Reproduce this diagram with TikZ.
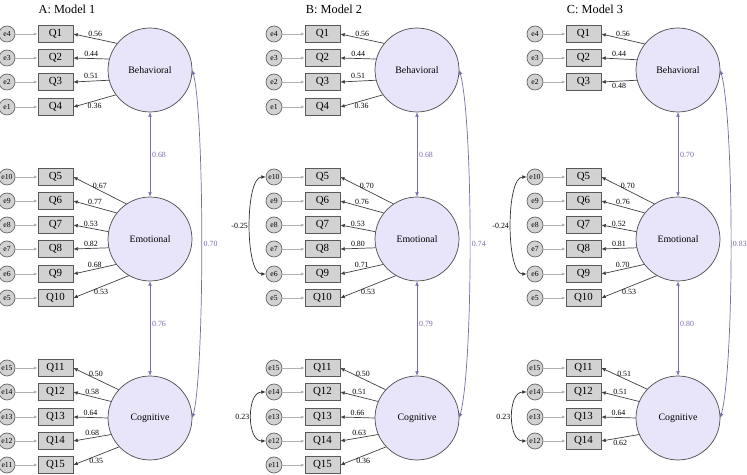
\documentclass[tikz,border=0pt]{standalone}
\usepackage{fontspec}
\setmainfont{Liberation Serif}
\usetikzlibrary{arrows.meta, positioning}
\definecolor{lav}{HTML}{E8E4F9}
\definecolor{purp}{HTML}{7D69AA}
\definecolor{boxgray}{HTML}{D2D2D2}

\begin{document}
\begin{tikzpicture}[x=0.02cm, y=0.02cm,
    item/.style={draw=black!65, fill=boxgray, minimum width=0.7cm, minimum height=0.34cm, inner sep=0pt, font=\fontsize{6.2}{7}\selectfont},
    err/.style={circle, draw=black!60, fill=boxgray, minimum size=0.32cm, inner sep=0pt, font=\fontsize{4.4}{5}\selectfont},
    latent/.style={circle, draw=black!70, fill=lav, minimum size=1.68cm, inner sep=0pt, font=\fontsize{5.6}{7}\selectfont},
    load/.style={draw=black!75, -{Latex[length=2.5pt, width=2.2pt]}},
    resid/.style={draw=black!30, -{Latex[length=2pt, width=1.8pt]}},
    corr/.style={draw=purp, {Latex[length=2.5pt, width=2.2pt]}-{Latex[length=2.5pt, width=2.2pt]}},
    ecov/.style={draw=black!80, {Latex[length=2.5pt, width=2.2pt]}-{Latex[length=2.5pt, width=2.2pt]}},
    lab/.style={font=\fontsize{4.5}{5}\selectfont, inner sep=1pt},
    plab/.style={lab, text=purp, right},
    title/.style={font=\fontsize{7}{8}\selectfont}]
    \useasboundingbox (0,0) rectangle (747,-475);

    % A: Model 1
    \node[title] (a-title) at (67,-9) {A: Model 1};
    \node[latent] (a-beh) at (150,-70) {Behavioral};
    \node[latent] (a-emo) at (150,-239) {Emotional};
    \node[latent] (a-cog) at (150,-418) {Cognitive};
    \foreach \q/\e/\y/\lv/\ang/\ld/\an in {1/4/34/beh/141/0.56/south, 2/3/58/beh/165/0.44/south,
        3/2/82/beh/194/0.51/south, 4/1/107/beh/216/0.36/north,
        5/10/177/emo/124/0.67/south, 6/9/201/emo/142/0.77/south, 7/8/225/emo/170/0.53/south,
        8/7/249/emo/192/0.82/south, 9/6/274/emo/217/0.68/south, 10/5/298/emo/240/0.53/north,
        11/15/368/cog/138/0.50/south, 12/14/392/cog/157/0.58/south, 13/13/417/cog/180/0.64/south,
        14/12/441/cog/203/0.68/south, 15/11/465/cog/223/0.35/north}
    {
        \node[err] (a-e\e) at (7,-\y) {e\e};
        \node[item] (a-Q\q) at (55.5,-\y) {Q\q};
        \draw[resid] (a-e\e) -- (a-Q\q);
        \draw[load] (a-\lv.\ang) -- node[lab, pos=0.5, anchor=\an] {\ld} (a-Q\q.east);
    }
    \draw[corr] (a-beh) -- node[plab] {0.68} (a-emo);
    \draw[corr] (a-emo) -- node[plab, pos=0.45] {0.76} (a-cog);
    \draw[corr] (a-beh.east) to[out=-75, in=75, looseness=0.35] node[plab] {0.70} (a-cog.east);

    % B: Model 2
    \node[title] (b-title) at (334,-9) {B: Model 2};
    \node[latent] (b-beh) at (417,-70) {Behavioral};
    \node[latent] (b-emo) at (417,-239) {Emotional};
    \node[latent] (b-cog) at (417,-418) {Cognitive};
    \foreach \q/\e/\y/\lv/\ang/\ld/\an in {1/4/34/beh/141/0.56/south, 2/3/58/beh/165/0.44/south,
        3/2/82/beh/194/0.51/south, 4/1/107/beh/216/0.36/north,
        5/10/177/emo/124/0.70/south, 6/9/201/emo/142/0.76/south, 7/8/225/emo/170/0.53/south,
        8/7/249/emo/192/0.80/south, 9/6/274/emo/217/0.71/south, 10/5/298/emo/240/0.53/north,
        11/15/368/cog/138/0.50/south, 12/14/392/cog/157/0.51/south, 13/13/417/cog/180/0.66/south,
        14/12/441/cog/203/0.63/south, 15/11/465/cog/223/0.36/north}
    {
        \node[err] (b-e\e) at (274,-\y) {e\e};
        \node[item] (b-Q\q) at (322.5,-\y) {Q\q};
        \draw[resid] (b-e\e) -- (b-Q\q);
        \draw[load] (b-\lv.\ang) -- node[lab, pos=0.5, anchor=\an] {\ld} (b-Q\q.east);
    }
    \draw[corr] (b-beh) -- node[plab] {0.68} (b-emo);
    \draw[corr] (b-emo) -- node[plab, pos=0.45] {0.79} (b-cog);
    \draw[corr] (b-beh.east) to[out=-75, in=75, looseness=0.4] node[plab] {0.74} (b-cog.east);
    \draw[ecov] (b-e10.west) to[out=180, in=180, looseness=0.55] node[lab, left] {-0.25} (b-e6.west);
    \draw[ecov] (b-e14.west) to[out=180, in=180, looseness=1] node[lab, left] {0.23} (b-e12.west);

    % C: Model 3
    \node[title] (c-title) at (595,-9) {C: Model 3};
    \node[latent] (c-beh) at (678,-70) {Behavioral};
    \node[latent] (c-emo) at (678,-239) {Emotional};
    \node[latent] (c-cog) at (678,-418) {Cognitive};
    \foreach \q/\e/\y/\lv/\ang/\ld/\an in {1/4/34/beh/142/0.56/south, 2/3/58/beh/166/0.44/south,
        3/2/82/beh/194/0.48/north,
        5/10/177/emo/124/0.70/south, 6/9/201/emo/142/0.76/south, 7/8/225/emo/170/0.52/south,
        8/7/249/emo/192/0.81/south, 9/6/274/emo/217/0.70/south, 10/5/298/emo/240/0.53/north,
        11/15/368/cog/137/0.51/south, 12/14/392/cog/157/0.51/south, 13/13/417/cog/180/0.64/south,
        14/12/441/cog/203/0.62/north}
    {
        \node[err] (c-e\e) at (535,-\y) {e\e};
        \node[item] (c-Q\q) at (583.5,-\y) {Q\q};
        \draw[resid] (c-e\e) -- (c-Q\q);
        \draw[load] (c-\lv.\ang) -- node[lab, pos=0.5, anchor=\an] {\ld} (c-Q\q.east);
    }
    \draw[corr] (c-beh) -- node[plab] {0.70} (c-emo);
    \draw[corr] (c-emo) -- node[plab, pos=0.45] {0.80} (c-cog);
    \draw[corr] (c-beh.east) to[out=-75, in=75, looseness=0.4] node[plab] {0.83} (c-cog.east);
    \draw[ecov] (c-e10.west) to[out=180, in=180, looseness=0.55] node[lab, left] {-0.24} (c-e6.west);
    \draw[ecov] (c-e14.west) to[out=180, in=180, looseness=1] node[lab, left] {0.23} (c-e12.west);
\end{tikzpicture}
\end{document}
